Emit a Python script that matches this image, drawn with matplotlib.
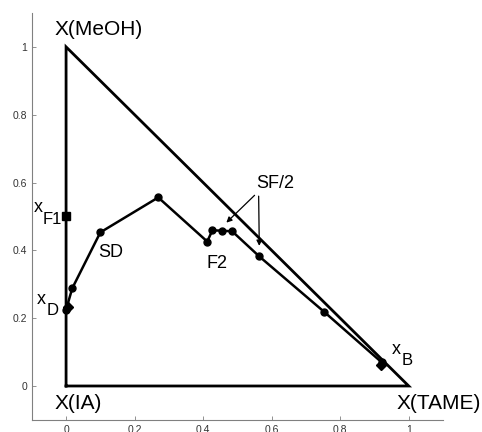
import matplotlib
matplotlib.use("Agg")
import matplotlib.pyplot as plt

plt.rcParams["font.family"] = ["Liberation Sans", "DejaVu Sans"]

# Triangle corners
tri_x = [0, 0, 1, 0]
tri_y = [0, 1, 0, 0]

# Profile points
prof_x = [0.0, 0.018, 0.10, 0.269, 0.412, 0.427, 0.456, 0.485, 0.564, 0.754, 0.921]
prof_y = [0.225, 0.288, 0.453, 0.556, 0.426, 0.459, 0.458, 0.456, 0.382, 0.218, 0.07]

# Special points
xF1 = (0.0, 0.5)
xD = (0.006, 0.232)
xB = (0.92, 0.063)

fig = plt.figure(figsize=(4.82, 4.32), dpi=100)
ax = fig.add_axes([0.066, 0.028, 0.853, 0.942])

ax.plot(tri_x, tri_y, color="black", lw=2.0, solid_joinstyle="miter")
ax.plot(prof_x, prof_y, color="black", lw=1.8, marker="o", ms=5)
ax.plot(*xF1, marker="s", color="black", ms=6)
ax.plot(*xD, marker="D", color="black", ms=5)
ax.plot(*xB, marker="D", color="black", ms=5)

ax.text(-0.035, 1.05, "X(MeOH)", fontsize=15, va="center", ha="left")
ax.text(-0.035, -0.053, "X(IA)", fontsize=15, va="center", ha="left")
ax.text(0.965, -0.053, "X(TAME)", fontsize=15, va="center", ha="left")
ax.text(0.13, 0.394, "SD", fontsize=13, va="center", ha="center")
ax.text(0.44, 0.362, "F2", fontsize=13, va="center", ha="center")
ax.text(0.61, 0.596, "SF/2", fontsize=13, va="center", ha="center")

# x labels with subscripts
ax.text(-0.095, 0.525, "x", fontsize=13, va="center", ha="left")
ax.text(-0.069, 0.492, "F1", fontsize=12, va="center", ha="left")
ax.text(-0.084, 0.255, "x", fontsize=13, va="center", ha="left")
ax.text(-0.056, 0.222, "D", fontsize=12, va="center", ha="left")
ax.text(0.952, 0.108, "x", fontsize=13, va="center", ha="left")
ax.text(0.98, 0.075, "B", fontsize=12, va="center", ha="left")

arrow = dict(arrowstyle="-|>", color="black", lw=0.9, mutation_scale=8)
ax.annotate("", xy=(0.462, 0.476), xytext=(0.556, 0.568), arrowprops=arrow)
ax.annotate("", xy=(0.564, 0.405), xytext=(0.562, 0.568), arrowprops=arrow)

ax.set_xlim(-0.1, 1.1)
ax.set_ylim(-0.1, 1.1)
ax.set_xticks([0, 0.2, 0.4, 0.6, 0.8, 1])
ax.set_xticklabels(["0", "0.2", "0.4", "0.6", "0.8", "1"])
ax.set_yticks([0, 0.2, 0.4, 0.6, 0.8, 1])
ax.set_yticklabels(["0", "0.2", "0.4", "0.6", "0.8", "1"])
ax.spines["top"].set_visible(False)
ax.spines["right"].set_visible(False)
for s in ["left", "bottom"]:
    ax.spines[s].set_color("#808080")
    ax.spines[s].set_linewidth(0.8)
ax.tick_params(direction="in", length=3, width=0.6, colors="#808080",
               labelcolor="#333333", labelsize=7.5)

fig.savefig("out.png", dpi=100)
